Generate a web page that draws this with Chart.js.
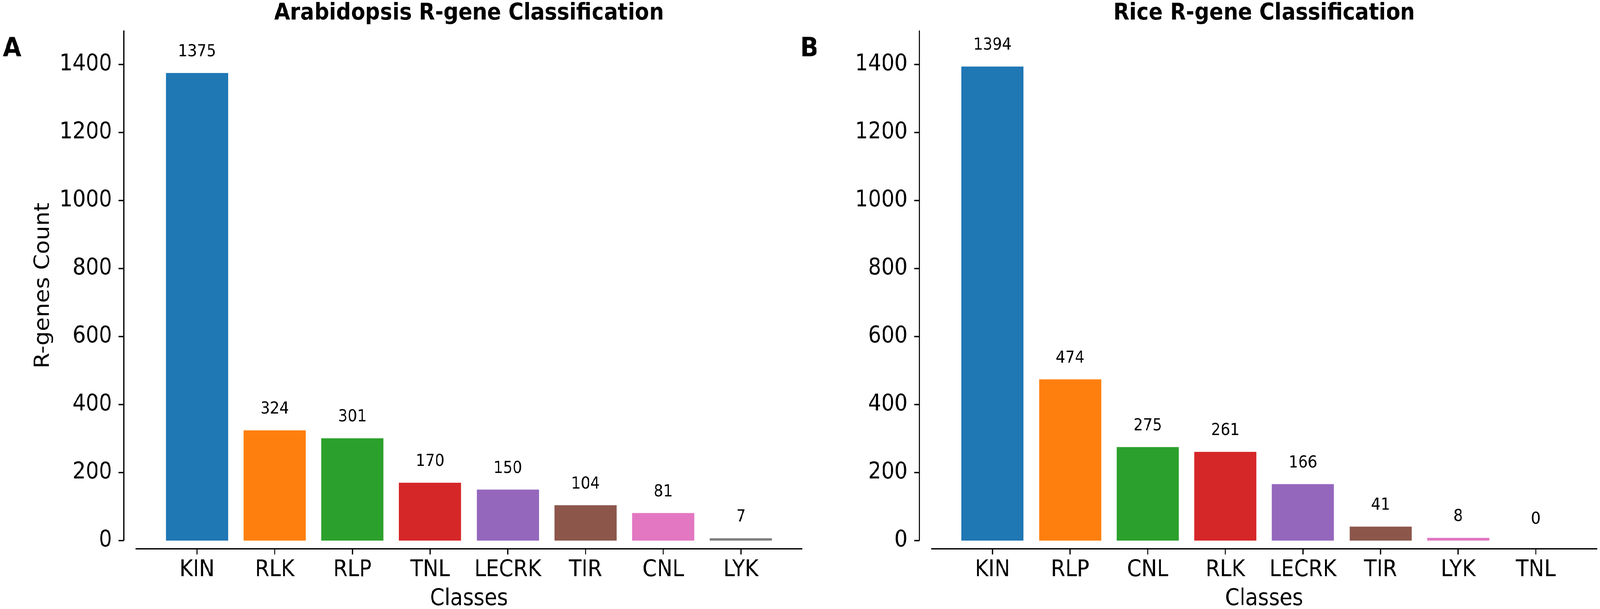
<!DOCTYPE html>
<html>
<head>
<meta charset="utf-8">
<title>R-gene Classification</title>
<script src="https://cdn.jsdelivr.net/npm/chart.js@4.4.1/dist/chart.umd.min.js"></script>
<style>
  html, body { margin: 0; padding: 0; background: #fff; overflow: hidden; }
  #page { position: relative; overflow: hidden; width: 4483px; height: 1558px; }
  #wrap { position: absolute; left: 0; top: 0; width: 4483px; height: 1558px; transform-origin: 0 0; }
  canvas { position: absolute; top: 0; }
  #chartA { left: 0; }
  #chartB { left: 2240px; }
</style>
</head>
<body>
<div id="page">
  <div id="wrap">
    <canvas id="chartA" width="2260" height="1558"></canvas>
    <canvas id="chartB" width="2243" height="1558"></canvas>
  </div>
</div>
<script>
// data
const araClasses = ['KIN', 'RLK', 'RLP', 'TNL', 'LECRK', 'TIR', 'CNL', 'LYK'];
const araCounts = [1375, 324, 301, 170, 150, 104, 81, 7];

const riceClasses = ['KIN', 'RLP', 'CNL', 'RLK', 'LECRK', 'TIR', 'LYK', 'TNL'];
const riceCounts = [1394, 474, 275, 261, 166, 41, 8, 0];

const yTicks = [0, 200, 400, 600, 800, 1000, 1200, 1400];

// matplotlib tab10, one colour per bar position
const barColors = ['#1f77b4', '#ff7f0e', '#2ca02c', '#d62728', '#9467bd', '#8c564b', '#e377c2', '#7f7f7f'];

// the page is laid out in image pixels; stretch it over the real viewport
const fitX = window.innerWidth / 4483;
const fitY = window.innerHeight / 1558;
const page = document.getElementById('page');
page.style.width = window.innerWidth + 'px';
page.style.height = window.innerHeight + 'px';
document.getElementById('wrap').style.transform = 'scale(' + fitX + ',' + fitY + ')';

Chart.defaults.font.family = "'DejaVu Sans', sans-serif";
Chart.defaults.color = '#000';

// offset spines, tick marks, value labels and panel letter
const decorPlugin = {
    id: 'decor',
    afterDraw(chart, args, opts) {
        const { ctx, chartArea: a, scales: { x, y } } = chart;
        ctx.save();
        ctx.strokeStyle = '#000';
        ctx.lineWidth = 3.3;
        ctx.beginPath();
        // y spine pushed left of the plot area
        const sx = a.left - opts.yOffset;
        ctx.moveTo(sx, y.getPixelForValue(y.max));
        ctx.lineTo(sx, y.getPixelForValue(0));
        yTicks.forEach(v => {
            const py = y.getPixelForValue(v);
            ctx.moveTo(sx, py);
            ctx.lineTo(sx - 14.6, py);
        });
        // x spine pushed below zero
        const sy = a.bottom + opts.xOffset;
        ctx.moveTo(a.left, sy);
        ctx.lineTo(a.right, sy);
        x.ticks.forEach(t => {
            const px = x.getPixelForValue(t.value);
            ctx.moveTo(px, sy);
            ctx.lineTo(px, sy + 14.6);
        });
        ctx.stroke();

        // value above each bar
        ctx.fillStyle = '#000';
        ctx.font = "42px 'DejaVu Sans'";
        ctx.textAlign = 'center';
        ctx.textBaseline = 'alphabetic';
        const values = chart.data.datasets[0].data;
        chart.getDatasetMeta(0).data.forEach((bar, i) => {
            ctx.fillText(String(values[i].y), bar.x, bar.y - 43);
        });

        // panel letter
        ctx.font = "bold 67px 'DejaVu Sans'";
        ctx.textAlign = 'left';
        ctx.fillText(opts.letter, opts.letterX, 144);
        ctx.restore();
    }
};

function makePanel(id, classes, counts, title, letter, letterX, yTitle, yAxisWidth, padRight) {
    const ctx = document.getElementById(id).getContext('2d');
    return new Chart(ctx, {
        type: 'bar',
        data: {
            datasets: [{
                data: counts.map((v, i) => ({ x: i, y: v })),
                backgroundColor: barColors,
                borderWidth: 0,
                categoryPercentage: 1.0,
                barPercentage: 0.8
            }]
        },
        options: {
            responsive: false,
            devicePixelRatio: 1,
            animation: false,
            layout: {
                padding: { left: 0, right: padRight, top: 0, bottom: 0 }
            },
            plugins: {
                legend: { display: false },
                tooltip: { enabled: false },
                title: {
                    display: true,
                    text: title,
                    fullSize: false,
                    font: { size: 58, weight: 'bold' },
                    padding: { top: 0, bottom: 8.4 }
                },
                decor: { yOffset: 33, xOffset: 21, letter: letter, letterX: letterX }
            },
            scales: {
                x: {
                    type: 'linear',
                    min: -0.79,
                    max: 7.79,
                    offset: false,
                    grid: { display: false, drawTicks: false },
                    border: { display: false },
                    afterBuildTicks: (scale) => {
                        scale.ticks = classes.map((c, i) => ({ value: i }));
                    },
                    afterFit: (scale) => { scale.height = 175; },
                    ticks: {
                        autoSkip: false,
                        maxRotation: 0,
                        padding: 41,
                        font: { size: 58 },
                        callback: (v) => classes[v]
                    },
                    title: {
                        display: true,
                        text: 'Classes',
                        font: { size: 58, lineHeight: 0.86 },
                        padding: { top: 0, bottom: 0 }
                    }
                },
                y: {
                    min: 0,
                    max: 1500,
                    grid: { display: false, drawTicks: false },
                    border: { display: false },
                    afterBuildTicks: (scale) => {
                        scale.ticks = yTicks.map(v => ({ value: v }));
                    },
                    afterFit: (scale) => {
                        scale.width = yAxisWidth;
                        // tick padding would otherwise push the plot top down
                        scale.paddingTop = 0;
                        scale.paddingBottom = 0;
                    },
                    ticks: {
                        padding: 66,
                        font: { size: 58 },
                        callback: (v) => String(v)
                    },
                    title: {
                        display: yTitle !== '',
                        text: yTitle,
                        font: { size: 58, lineHeight: 0.86 },
                        padding: { top: 97, bottom: 0 }
                    }
                }
            }
        },
        plugins: [decorPlugin]
    });
}

makePanel('chartA', araClasses, araCounts, 'Arabidopsis R-gene Classification', 'A', 8, 'R-genes Count', 380, 12);
makePanel('chartB', riceClasses, riceCounts, 'Rice R-gene Classification', 'B', 2, '', 369, 8);
</script>
</body>
</html>
